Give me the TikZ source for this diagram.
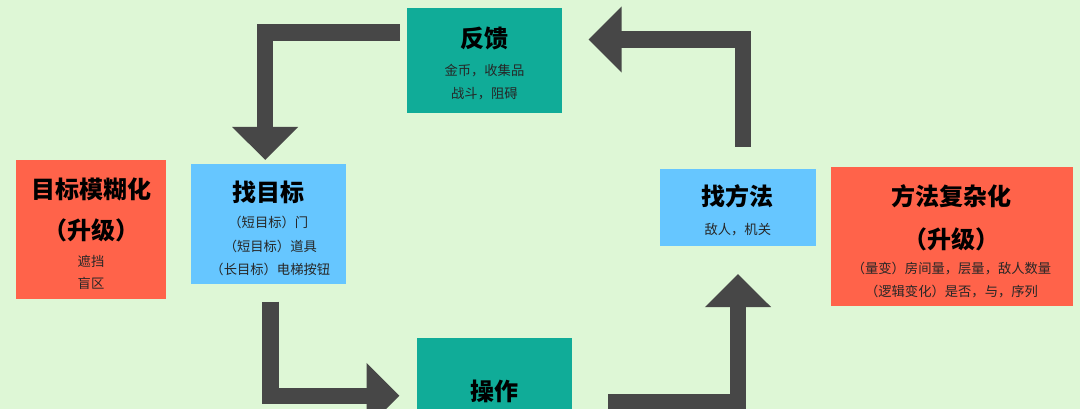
\documentclass[tikz,border=0pt]{standalone}
\usepackage{fontspec}
\setmainfont{Noto Sans CJK SC}
\usetikzlibrary{arrows.meta}
\definecolor{bgc}{HTML}{DEF7D6}
\definecolor{tealc}{HTML}{10AC98}
\definecolor{bluec}{HTML}{66C6FF}
\definecolor{redc}{HTML}{FF634A}
\definecolor{arrc}{HTML}{474747}
\tikzset{
  box/.style={draw=none, rectangle, inner sep=0pt, anchor=north west},
  ttl/.style={font=\fontsize{24}{28}\selectfont\bfseries, text=black, inner sep=0pt, anchor=center},
  sub/.style={font=\fontsize{13.3}{16}\selectfont, text=black!85, inner sep=0pt, anchor=center},
  blockarrow/.style={draw=arrc, line width=16.5pt, line join=miter, line cap=butt,
    -{Triangle[width=64pt,length=33pt]}},
}
\begin{document}
\begin{tikzpicture}[x=1pt,y=-1pt]
\useasboundingbox (0,0) rectangle (1080,409);
\clip (0,0) rectangle (1080,409);
\fill[bgc] (0,0) rectangle (1080,409);

% boxes
\node[box, fill=redc, minimum width=150pt, minimum height=139pt] (blur) at (16,160) {};
\node[box, fill=bluec, minimum width=155.3pt, minimum height=120pt] (goal) at (190.7,164) {};
\node[box, fill=tealc, minimum width=155.2pt, minimum height=105pt] (fb) at (406.8,8) {};
\node[box, fill=bluec, minimum width=155.7pt, minimum height=76.7pt] (way) at (660,169) {};
\node[box, fill=redc, minimum width=242.4pt, minimum height=138.7pt] (cplx) at (830.3,167.3) {};
\node[box, fill=tealc, minimum width=155.3pt, minimum height=120pt] (op) at (416.7,337.5) {};

% texts
\node[ttl] (blur-t) at (91,189) {目标模糊化};
\node[ttl] (blur-u) at (91,230.7) {（升级）};
\node[sub] (blur-1) at (91,261) {遮挡};
\node[sub] (blur-2) at (91,283) {盲区};

\node[ttl] (goal-t) at (268.3,192) {找目标};
\node[sub] (goal-1) at (268.3,222.7) {（短目标）门};
\node[sub] (goal-2) at (270.3,246) {（短目标）道具};
\node[sub] (goal-3) at (270.3,269) {（长目标）电梯按钮};

\node[ttl] (fb-t) at (484.4,38) {反馈};
\node[sub] (fb-1) at (484.4,70.7) {金币，收集品};
\node[sub] (fb-2) at (484.4,93.3) {战斗，阻碍};

\node[ttl] (way-t) at (737.8,196.7) {找方法};
\node[sub] (way-1) at (737.8,230) {敌人，机关};

\node[ttl] (cplx-t) at (951.5,196.7) {方法复杂化};
\node[ttl] (cplx-u) at (951.5,239) {（升级）};
\node[sub] (cplx-1) at (951.5,269) {（量变）房间量，层量，敌人数量};
\node[sub] (cplx-2) at (951.5,291.3) {（逻辑变化）是否，与，序列};

\node[ttl] (op-t) at (494.4,391.7) {操作};

% arrow end points
\coordinate (a1s) at (400,32.3);
\coordinate (a1e) at (265.2,160);
\coordinate (a2s) at (270.5,301.7);
\coordinate (a2e) at (399.5,395.8);
\coordinate (a3s) at (608.3,402.2);
\coordinate (a3e) at (738,274);
\coordinate (a4s) at (743,146.7);
\coordinate (a4e) at (588.6,39.5);

\draw[blockarrow] (a1s) -| (a1e);
\draw[blockarrow] (a2s) |- (a2e);
\draw[blockarrow] (a3s) -| (a3e);
\draw[blockarrow] (a4s) |- (a4e);
\end{tikzpicture}
\end{document}
